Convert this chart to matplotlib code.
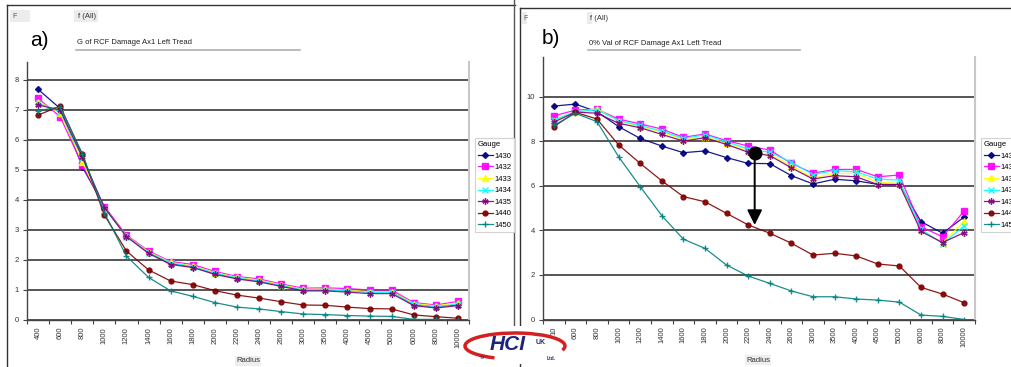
import matplotlib
matplotlib.use('Agg')
import matplotlib.pyplot as plt
from matplotlib.patches import Rectangle, Arc, FancyArrowPatch
from matplotlib.lines import Line2D

plt.rcParams['font.family'] = ['Liberation Sans', 'DejaVu Sans']

W, H = 1011, 367

# ---------------- data ----------------
radius = ['400', '600', '800', '1000', '1200', '1400', '1600', '1800', '2000', '2200',
          '2400', '2600', '3000', '3500', '4000', '4500', '5000', '6000', '8000', '10000']
radius_labels_b = ['10'] + radius[1:]
gauges = ['1430', '1432', '1433', '1434', '1435', '1440', '1450']

a_1430 = [7.69, 7.05, 5.11, 3.78, 2.80, 2.25, 1.88, 1.78, 1.55, 1.40, 1.30, 1.15, 1.00, 1.02, 1.00, 0.97, 0.97, 0.50, 0.45, 0.50]
a_1432 = [7.39, 6.78, 5.17, 3.78, 2.83, 2.30, 1.95, 1.85, 1.62, 1.45, 1.37, 1.20, 1.06, 1.07, 1.05, 1.00, 1.00, 0.58, 0.50, 0.62]
a_1433 = [7.28, 6.89, 5.28, 3.75, 2.80, 2.27, 1.92, 1.80, 1.58, 1.42, 1.33, 1.17, 1.02, 1.03, 1.00, 0.95, 0.95, 0.55, 0.47, 0.57]
a_1434 = [7.22, 6.95, 5.40, 3.73, 2.78, 2.25, 1.90, 1.78, 1.56, 1.40, 1.30, 1.14, 1.00, 1.00, 0.97, 0.92, 0.92, 0.52, 0.44, 0.53]
a_1435 = [7.17, 7.00, 5.44, 3.75, 2.78, 2.22, 1.85, 1.75, 1.52, 1.37, 1.27, 1.12, 0.97, 0.97, 0.93, 0.88, 0.88, 0.48, 0.40, 0.48]
a_1440 = [6.83, 7.13, 5.52, 3.50, 2.30, 1.67, 1.30, 1.18, 0.98, 0.83, 0.73, 0.61, 0.50, 0.49, 0.43, 0.38, 0.37, 0.17, 0.11, 0.06]
a_1450 = [6.98, 7.10, 5.55, 3.58, 2.13, 1.42, 0.97, 0.79, 0.58, 0.43, 0.37, 0.28, 0.20, 0.18, 0.15, 0.13, 0.12, 0.02, 0.02, 0.00]

b_1430 = [9.57, 9.66, 9.32, 8.65, 8.12, 7.78, 7.48, 7.56, 7.26, 7.00, 6.99, 6.45, 6.08, 6.29, 6.22, 6.06, 6.06, 4.39, 3.87, 4.60]
b_1432 = [9.13, 9.39, 9.43, 8.99, 8.77, 8.54, 8.17, 8.32, 8.02, 7.78, 7.60, 7.00, 6.56, 6.73, 6.73, 6.40, 6.48, 4.16, 3.71, 4.87]
b_1433 = [8.90, 9.30, 9.45, 8.90, 8.65, 8.40, 8.05, 8.20, 7.90, 7.55, 7.40, 6.90, 6.35, 6.55, 6.55, 6.15, 6.10, 4.00, 3.45, 4.40]
b_1434 = [8.95, 9.32, 9.40, 8.92, 8.70, 8.45, 8.12, 8.28, 7.97, 7.65, 7.50, 7.05, 6.50, 6.68, 6.62, 6.30, 6.25, 4.05, 3.40, 4.20]
b_1435 = [8.85, 9.30, 9.25, 8.80, 8.60, 8.30, 8.00, 8.15, 7.85, 7.50, 7.35, 6.80, 6.30, 6.45, 6.40, 6.05, 6.05, 3.95, 3.45, 3.90]
b_1440 = [8.65, 9.29, 8.99, 7.83, 7.00, 6.22, 5.51, 5.28, 4.76, 4.24, 3.87, 3.42, 2.89, 2.97, 2.85, 2.49, 2.40, 1.44, 1.14, 0.75]
b_1450 = [8.70, 9.25, 8.87, 7.30, 5.96, 4.66, 3.60, 3.19, 2.44, 1.95, 1.62, 1.28, 1.02, 1.02, 0.92, 0.87, 0.78, 0.20, 0.14, 0.00]

series_a = [a_1430, a_1432, a_1433, a_1434, a_1435, a_1440, a_1450]
series_b = [b_1430, b_1432, b_1433, b_1434, b_1435, b_1440, b_1450]

colors = ['#000080', '#FF00FF', '#FFFF00', '#00FFFF', '#800080', '#800000', '#008080']
markers = ['D', 's', '^', 'x', (6, 2, 0), 'o', '+']
msizes = [3, 4, 4, 4, 4.5, 3.5, 5]

# annotation in panel b (category index, value)
dot_pos = (9.3, 7.47)
arrow_tip = 4.24

# ---------------- figure ----------------
fig = plt.figure(figsize=(W / 100, H / 100), dpi=100)
fig.patch.set_facecolor('white')

deco = fig.add_axes([0, 0, 1, 1])
deco.set_xlim(0, W)
deco.set_ylim(H, 0)
deco.axis('off')
deco.set_zorder(0)


def fx(x):
    return x / W


def fy(y):
    return 1 - y / H


def style_axes(ax, ymax, yticks, labels):
    n = len(labels)
    ax.set_xlim(-0.5, n - 0.5)
    ax.set_ylim(0, ymax)
    ax.set_facecolor('none')
    ax.set_xticks(range(n))
    ax.set_xticklabels(labels, rotation=90, fontsize=5.5, color='#333333', va='top')
    ax.set_xticks([i - 0.5 for i in range(n + 1)], minor=True)
    ax.tick_params(axis='x', which='major', length=0, pad=5)
    ax.tick_params(axis='x', which='minor', length=3, width=0.8, color='#444444', direction='out')
    ax.set_yticks(yticks)
    ax.set_yticklabels([str(t) for t in yticks], fontsize=5.5, color='#333333')
    ax.tick_params(axis='y', length=3, width=0.8, color='#444444', pad=3)
    ax.yaxis.grid(True, color='#555555', lw=1.4)
    ax.set_axisbelow(True)
    ax.spines['top'].set_visible(False)
    ax.spines['right'].set_color('#c8c8c8')
    ax.spines['right'].set_linewidth(1.5)
    ax.spines['left'].set_color('#444444')
    ax.spines['left'].set_linewidth(1.0)
    ax.spines['bottom'].set_color('#444444')
    ax.spines['bottom'].set_linewidth(1.0)


def plot_series(ax, series):
    handles = []
    for vals, c, m, ms, g in zip(series, colors, markers, msizes, gauges):
        ln, = ax.plot(range(len(vals)), vals, color=c, lw=0.9, marker=m, ms=ms,
                      mew=1.0, mec=c, mfc=c, label=g, alpha=0.9)
        handles.append(ln)
    return handles


# panel a
ax_a = fig.add_axes([fx(27), fy(320), 442 / W, 258 / H])
style_axes(ax_a, 8.6, list(range(0, 9)), radius)
ha = plot_series(ax_a, series_a)
leg_a = ax_a.legend(handles=ha, title='Gauge', loc='upper left',
                    bbox_to_anchor=(fx(475), fy(138)), bbox_transform=fig.transFigure,
                    fontsize=5.5, title_fontsize=5.5, frameon=True, fancybox=False,
                    edgecolor='#c8c8c8', borderpad=0.4, labelspacing=0.55,
                    handlelength=1.9, handletextpad=0.3, borderaxespad=0, alignment='left')
leg_a.get_frame().set_linewidth(0.8)

# panel b
ax_b = fig.add_axes([fx(543), fy(319.5), 432 / W, 262.5 / H])
style_axes(ax_b, 262.5 / 22.3, [0, 2, 4, 6, 8, 10], radius_labels_b)
hb = plot_series(ax_b, series_b)
leg_b = ax_b.legend(handles=hb, title='Gauge', loc='upper left',
                    bbox_to_anchor=(fx(981), fy(138)), bbox_transform=fig.transFigure,
                    fontsize=5.5, title_fontsize=5.5, frameon=True, fancybox=False,
                    edgecolor='#c8c8c8', borderpad=0.4, labelspacing=0.55,
                    handlelength=1.9, handletextpad=0.3, borderaxespad=0, alignment='left')
leg_b.get_frame().set_linewidth(0.8)

# dot and arrow in panel b
ax_b.plot([dot_pos[0]], [dot_pos[1]], 'o', color='black', ms=9, zorder=10)
ax_b.annotate('', xy=(dot_pos[0], arrow_tip), xytext=(dot_pos[0], dot_pos[1]),
              arrowprops=dict(arrowstyle='-|>,head_length=0.9,head_width=0.45',
                              color='black', lw=1.4, shrinkA=0, shrinkB=0), zorder=10)

# ---------------- decorations ----------------
# frames
deco.plot([7, 7], [5, H], color='#333333', lw=1.0)
deco.plot([7, 515], [5, 5], color='#333333', lw=1.0)
deco.plot([514, 514], [0, 330], color='#555555', lw=1.0)
deco.plot([520, 520], [8, H], color='#333333', lw=1.0)
deco.plot([520, W], [8, 8], color='#333333', lw=1.0)

# page-field boxes
deco.add_patch(Rectangle((10, 10), 88, 12, facecolor='#ececec', edgecolor='none'))
deco.add_patch(Rectangle((30, 10), 44, 12, facecolor='white', edgecolor='none'))
deco.text(12, 16, 'F', fontsize=5, color='#555555', va='center')
deco.text(78, 16, 'f (All)', fontsize=5.5, color='#333333', va='center')

deco.add_patch(Rectangle((522, 12), 70, 12, facecolor='#ececec', edgecolor='none'))
deco.add_patch(Rectangle((527, 12), 60, 12, facecolor='white', edgecolor='none'))
deco.text(523, 18, 'F', fontsize=5, color='#555555', va='center')
deco.text(590, 18, 'f (All)', fontsize=5.5, color='#333333', va='center')

# panel labels
deco.text(30, 40, 'a)', fontsize=15, color='black', va='center', ha='left')
deco.text(542, 38, 'b)', fontsize=15, color='black', va='center', ha='left')

# chart titles with underline
deco.text(77, 42.5, 'G of RCF Damage Ax1 Left Tread', fontsize=5.5, color='#222222', va='center')
deco.plot([76, 300], [49.5, 49.5], color='#b0b0b0', lw=1.2)
deco.text(589, 43.5, '0% Val of RCF Damage Ax1 Left Tread', fontsize=5.5, color='#222222', va='center')
deco.plot([588, 800], [50, 50], color='#b0b0b0', lw=1.2)

# axis title boxes
deco.text(248, 361, 'Radius', fontsize=5.5, color='#333333', ha='center', va='center',
          bbox=dict(facecolor='#eeeeee', edgecolor='none', pad=1))
deco.text(758, 360, 'Radius', fontsize=5.5, color='#333333', ha='center', va='center',
          bbox=dict(facecolor='#eeeeee', edgecolor='none', pad=1))

# logo
logo_z = 20
deco.add_patch(Rectangle((462, 326), 108, 38, facecolor='white', edgecolor='none', zorder=logo_z - 1))
deco.add_patch(Arc((515, 346), 100, 26, theta1=150, theta2=365, color='#d42020', lw=2.5, zorder=logo_z))
deco.text(508, 344, 'HCI', fontsize=15, fontweight='bold', fontstyle='italic',
          color='#1f237a', ha='center', va='center', zorder=logo_z + 1)
deco.text(541, 342, 'UK', fontsize=5, fontweight='bold', color='#1f237a',
          ha='center', va='center', zorder=logo_z + 1)
deco.text(551, 358, 'Ltd.', fontsize=3.5, fontweight='bold', color='#1f237a',
          ha='center', va='center', zorder=logo_z + 1)
deco.text(482, 358, 'TM', fontsize=2.5, color='#1f237a', ha='center', va='center', zorder=logo_z + 1)

fig.savefig('out.png', dpi=100, facecolor='white')
